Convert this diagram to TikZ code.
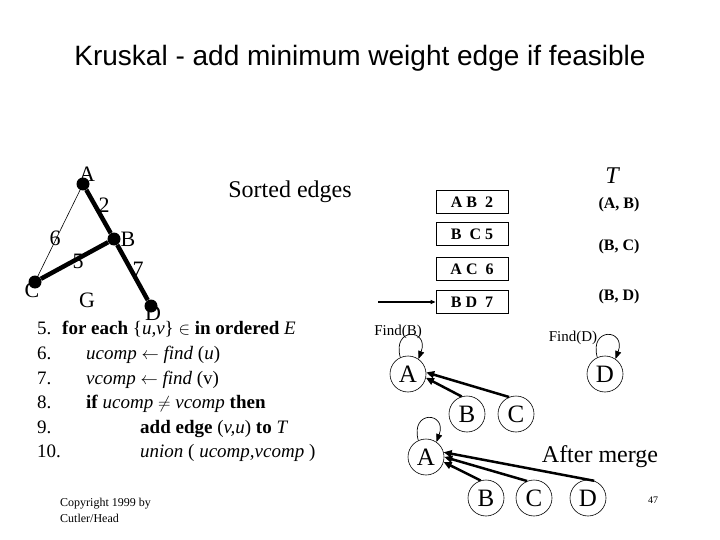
\documentclass[tikz,border=0pt]{standalone}
\usepackage{fontspec}
\setmainfont{Liberation Serif}
\newfontfamily\arialfont{Liberation Sans}
\usetikzlibrary{arrows.meta}

\begin{document}
\begin{tikzpicture}
[x=1pt,y=-1pt,
every node/.style={inner sep=0pt},
vertex/.style={circle,fill,minimum size=13pt},
heavy/.style={line width=4.5pt},
light/.style={line width=0.6pt},
glabel/.style={font=\fontsize{22}{22}\selectfont},
edgebox/.style={draw,line width=0.8pt,minimum width=72pt,minimum height=23pt,
  font=\fontsize{16}{16}\selectfont\bfseries},
pick/.style={font=\fontsize{16}{16}\selectfont\bfseries},
code/.style={anchor=base west,font=\fontsize{19}{19}\selectfont},
set/.style={circle,draw,line width=0.6pt,minimum size=36pt,font=\fontsize{25}{25}\selectfont},
parent/.style={line width=2.5pt,-{Triangle[length=8pt,width=7pt]}},
self/.style={line width=0.7pt,-{Triangle[length=8pt,width=6pt]}},
small/.style={font=\fontsize{15}{15}\selectfont}]

\useasboundingbox (0,0) rectangle (720,540);

\node[font=\arialfont\fontsize{28}{28}\selectfont] (title) at (360,58)
  {Kruskal - add minimum weight edge if feasible};

% graph G
\node[vertex] (a) at (83,184) {};
\node[vertex] (b) at (114,239) {};
\node[vertex] (c) at (35,282) {};
\node[vertex] (d) at (151,306) {};
\draw[light] (a) -- (c);
\draw[heavy] (a) -- (b);
\draw[heavy] (b) -- (c);
\draw[heavy] (b) -- (d);
\node[glabel] (la) at (87,174) {A};
\node[glabel] (lb) at (128,239) {B};
\node[glabel] (lc) at (32,290) {C};
\node[glabel] (ld) at (153,313) {D};
\node[glabel] (w2) at (104,205) {2};
\node[glabel] (w6) at (55,238) {6};
\node[glabel] (w5) at (78,261) {5};
\node[glabel] (w7) at (138,269) {7};
\node[glabel] (g) at (87,300) {G};

% sorted edges
\node[font=\fontsize{24}{24}\selectfont] (sorted) at (290,192) {Sorted edges};
\node[edgebox] (e1) at (472,202) {A B\ \ 2};
\node[edgebox] (e2) at (472,234) {B\ \ C 5};
\node[edgebox] (e3) at (472,269) {A C\ \ 6};
\node[edgebox] (e4) at (472,302) {B D\ \ 7};
\coordinate (cur) at (378,302);
\draw[line width=1.2pt,-{Triangle[length=5pt,width=4pt]}] (cur) -- (e4);

% tree edges
\node[font=\fontsize{24}{24}\selectfont\itshape] (tee) at (612,176) {T};
\node[pick] (t1) at (619,205) {(A, B)};
\node[pick] (t2) at (619,247) {(B, C)};
\node[pick] (t3) at (619,297) {(B, D)};

% algorithm
\node[code] (n5) at (37,334) {5.};
\node[code] (l5) at (62,334) {\textbf{for each} \{\textit{u,v}\} $\in$ \textbf{in ordered} \textit{E}};
\node[code] (n6) at (37,359) {6.};
\node[code] (l6) at (86,359) {\textit{ucomp} $\leftarrow$ \textit{find} (\textit{u})};
\node[code] (n7) at (37,384) {7.};
\node[code] (l7) at (86,384) {\textit{vcomp} $\leftarrow$ \textit{find} (v)};
\node[code] (n8) at (37,408) {8.};
\node[code] (l8) at (86,408) {\textbf{if} \textit{ucomp} $\neq$ \textit{vcomp} \textbf{then}};
\node[code] (n9) at (37,433) {9.};
\node[code] (l9) at (140,433) {\textbf{add edge} (\textit{v,u}) \textbf{to} \textit{T}};
\node[code] (n10) at (37,457) {10.};
\node[code] (l10) at (140,457) {\textit{union} ( \textit{ucomp,vcomp} )};

\node[anchor=base west,font=\fontsize{12}{12}\selectfont] (copy1) at (60,506) {Copyright 1999 by};
\node[anchor=base west,font=\fontsize{12}{12}\selectfont] (copy2) at (60,522) {Cutler/Head};

% union-find before merge
\node[small] (findb) at (398,332) {Find(B)};
\node[small] (findd) at (573,338) {Find(D)};
\node[set] (ra) at (408,374) {A};
\node[set] (rb) at (467,414) {B};
\node[set] (rc) at (516,414) {C};
\node[set] (rd) at (605,374) {D};
\draw[parent] (rb.107) -- (ra.-12);
\draw[parent] (rc.112) -- (ra.5);
\draw[self] (ra.115) to[out=105,in=70,looseness=4.5] (ra.55);
\draw[self] (rd.115) to[out=105,in=70,looseness=4.5] (rd.55);

% after merge
\node[set] (ma) at (426,457) {A};
\node[set] (mb) at (486,498) {B};
\node[set] (mc) at (534,498) {C};
\node[set] (md) at (588,498) {D};
\draw[parent] (mb.107) -- (ma.-16);
\draw[parent] (mc.112) -- (ma.0);
\draw[parent] (md.70) -- (ma.15);
\draw[self] (ma.115) to[out=105,in=70,looseness=4.5] (ma.55);
\node[font=\fontsize{24}{24}\selectfont] (merge) at (600,457) {After merge};

\node[font=\fontsize{10}{10}\selectfont] (page) at (653,500) {47};
\end{tikzpicture}
\end{document}
